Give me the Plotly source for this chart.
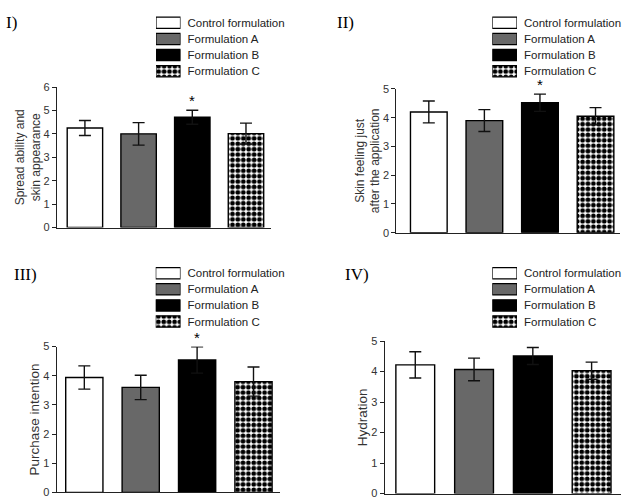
import plotly.graph_objects as go

formulations = ["Control formulation", "Formulation A", "Formulation B", "Formulation C"]

# Panel values (mean) and errors
spread_mean = [4.25, 4.0, 4.71, 4.01]
spread_err = [0.32, 0.48, 0.3, 0.45]

skin_mean = [4.2, 3.9, 4.52, 4.05]
skin_err = [0.38, 0.38, 0.3, 0.3]

purchase_mean = [3.94, 3.6, 4.54, 3.8]
purchase_err = [0.4, 0.42, 0.45, 0.5]

hydration_mean = [4.22, 4.07, 4.51, 4.03]
hydration_err = [0.43, 0.37, 0.28, 0.28]

panel_labels = ["I)", "II)", "III)", "IV)"]
y_titles = ["Spread ability and<br>skin appearance",
            "Skin feeling just<br>after the application",
            "Purchase intention",
            "Hydration"]
y_max = [6, 5, 5, 5]
significant = [[False, False, True, False],
               [False, False, True, False],
               [False, False, True, False],
               [False, False, False, False]]

panels = [(spread_mean, spread_err), (skin_mean, skin_err),
          (purchase_mean, purchase_err), (hydration_mean, hydration_err)]

# styles
fill_colors = ["white", "#686868", "black", "white"]
pattern_shapes = ["", "", "", "."]
PAT_SIZE, PAT_SOLID = 5.4, 0.6

# layout geometry (pixels -> paper)
W, H = 636, 500
x_dom_px = [(57, 271), (396.3, 619.7), (56.7, 280), (384.7, 621)]
y_dom_px = [(227, 83), (232.3, 85), (498.3, 349), (499.6, 343.3)]
x_ranges = [(-0.52, 3.466), (-0.585, 3.435), (-0.49, 3.47), (-0.52, 3.5)]
title_sizes = [12, 12, 13.5, 13.5]
key_x_px = [(156, 180.5), (492.3, 517), (155.7, 180.5), (492.3, 517)]
key_y_px = [(9, 75), (9, 75), (265.5, 331.5), (265.5, 331.5)]
label_pos_px = [(4, 17), (335, 17), (12, 275), (343, 275)]


def pattern(i):
    return dict(shape=pattern_shapes[i], fgcolor="black", bgcolor="white",
                size=PAT_SIZE, solidity=PAT_SOLID, fillmode="replace")


fig = go.Figure()
layout = dict(width=W, height=H, autosize=False,
              margin=dict(l=0, r=0, t=0, b=0),
              paper_bgcolor="white", plot_bgcolor="white",
              font=dict(family="Liberation Sans, Arial", color="#333333", size=11),
              showlegend=False, barmode="overlay")
annotations = []

for p in range(4):
    means, errs = panels[p]
    n = 2 * p + 1
    ax = "" if n == 1 else str(n)
    kax = str(n + 1)
    for i, name in enumerate(formulations):
        fig.add_trace(go.Bar(
            x=[i], y=[means[i]], name=name, width=0.66,
            xaxis="x" + ax, yaxis="y" + ax,
            marker=dict(color=fill_colors[i], line=dict(color="black", width=1.4),
                        pattern=pattern(i)),
            error_y=dict(type="data", array=[errs[i]], visible=True,
                         color="#111111", thickness=1.4, width=6),
            hoverinfo="skip",
        ))
        # key entry: a short horizontal swatch labelled with the series name
        fig.add_trace(go.Bar(
            x=[1], y=[name], orientation="h", width=0.7, name=name,
            xaxis="x" + kax, yaxis="y" + kax,
            marker=dict(color=fill_colors[i], line=dict(color="black", width=1.2),
                        pattern=pattern(i)),
            hoverinfo="skip",
        ))
        if significant[p][i]:
            annotations.append(dict(x=i, y=means[i] + errs[i], xref="x" + ax, yref="y" + ax,
                                    text="*", showarrow=False, yanchor="bottom", yshift=-1,
                                    font=dict(size=15, color="black", family="Liberation Sans")))
    kx0, kx1 = key_x_px[p]
    ky0, ky1 = key_y_px[p]
    layout["xaxis" + kax] = dict(domain=[kx0 / W, kx1 / W], range=[0, 1], visible=False,
                                 anchor="y" + kax, fixedrange=True)
    layout["yaxis" + kax] = dict(domain=[1 - ky1 / H, 1 - ky0 / H], autorange="reversed",
                                 type="category", categoryorder="array",
                                 categoryarray=formulations,
                                 side="right", anchor="x" + kax, showline=False, ticks="",
                                 showgrid=False, zeroline=False, ticklabelstandoff=6,
                                 tickfont=dict(size=11.5, color="#222222"), fixedrange=True)

    x0, x1 = x_dom_px[p]
    yb, yt = y_dom_px[p]
    layout["xaxis" + ax] = dict(domain=[x0 / W, x1 / W], range=list(x_ranges[p]),
                                showticklabels=False, ticks="", showgrid=False, zeroline=False,
                                showline=True, linecolor="#222222", linewidth=1.2,
                                anchor="y" + ax, fixedrange=True)
    layout["yaxis" + ax] = dict(domain=[1 - yb / H, 1 - yt / H], range=[0, y_max[p]],
                                dtick=1, ticks="outside", ticklen=4, tickwidth=1.2,
                                tickcolor="#222222", showgrid=False, zeroline=False,
                                showline=True, linecolor="#222222", linewidth=1.2,
                                anchor="x" + ax, tickfont=dict(size=11, color="#333333"),
                                title=dict(text=y_titles[p],
                                           font=dict(size=title_sizes[p], color="#333333"),
                                           standoff=0),
                                fixedrange=True)
    tx, ty = label_pos_px[p]
    annotations.append(dict(x=tx / W, y=1 - ty / H, xref="paper", yref="paper",
                            text=panel_labels[p], showarrow=False, xanchor="left",
                            yanchor="middle",
                            font=dict(family="Liberation Serif, Times New Roman", size=17,
                                      color="black")))

layout["annotations"] = annotations
fig.update_layout(**layout)
fig.write_html("out.html")
